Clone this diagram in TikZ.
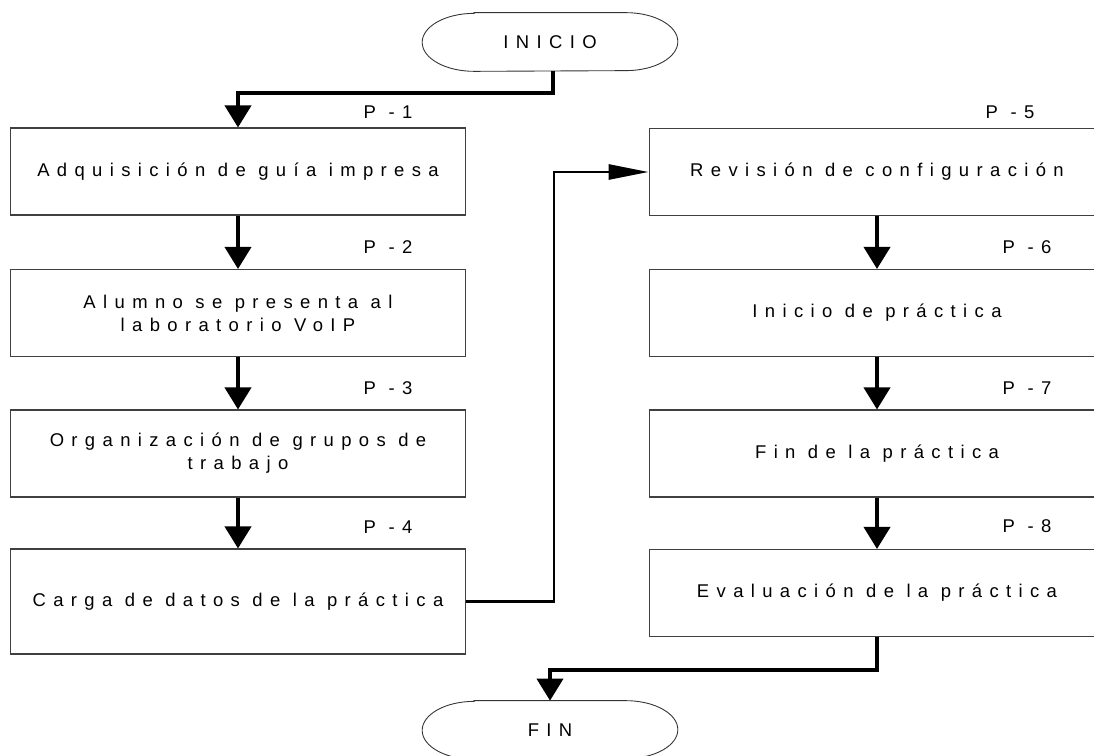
\documentclass[tikz,border=0pt]{standalone}
\usepackage{fontspec}
\usepackage{tikz}
\usetikzlibrary{calc,arrows.meta}
\newfontfamily\rotulo[LetterSpace=40]{Liberation Sans}

\tikzset{
	paso/.style={draw=black!75, line width=0.6pt, minimum width=9.12cm, minimum height=1.74cm, align=center, inner sep=0pt, font=\rotulo\fontsize{10.5}{13}\selectfont},
	extremo/.style={minimum width=5.1cm, minimum height=1.16cm, inner sep=0pt, font=\rotulo\fontsize{10.5}{13}\selectfont},
	marca/.style={font=\rotulo\fontsize{10.5}{13}\selectfont},
	flecha/.style={line width=2.2pt, -{Triangle[width=0.52cm,length=0.44cm]}},
	enlace/.style={line width=1.6pt, -{Triangle[width=0.3cm,length=0.8cm]}}
}
\def\capsula(#1){\draw[black!80, line width=0.5pt] ($(#1.north west)+(1.04cm,0)$) -- ($(#1.north east)-(1.04cm,0)$) arc (90:-90:1.04cm and 0.58cm) -- ($(#1.south west)+(1.04cm,0)$) arc (270:90:1.04cm and 0.58cm) -- cycle;}

\begin{document}
\begin{tikzpicture}[x=0.02cm, y=-0.02cm]
		%%%%% START %%%%%
		\useasboundingbox (0, 0) rectangle (1094, 756);
		
		\node[extremo] (inicio) at (550, 42) {INICIO};
		\capsula(inicio)
		
		\node[paso] (p1) at (238, 171.5) {Adquisición de guía impresa};
		\node[paso] (p2) at (238, 313) {Alumno se presenta al\\laboratorio VoIP};
		\node[paso] (p3) at (238, 453.5) {Organización de grupos de\\trabajo};
		\node[paso, minimum height=2.1cm] (p4) at (238, 601.5) {Carga de datos de la práctica};
		
		\node[paso] (p5) at (877, 172) {Revisión de configuración};
		\node[paso] (p6) at (877, 313) {Inicio de práctica};
		\node[paso] (p7) at (877, 453.5) {Fin de la práctica};
		\node[paso] (p8) at (877, 593) {Evaluación de la práctica};
		
		\node[extremo] (fin) at (550, 730) {FIN};
		\capsula(fin)
		
		\node[marca] (m1) at (388, 112) {P -1};
		\node[marca] (m2) at (388, 247) {P -2};
		\node[marca] (m3) at (388, 388) {P -3};
		\node[marca] (m4) at (388, 527) {P -4};
		\node[marca] (m5) at (1010, 112) {P -5};
		\node[marca] (m6) at (1027, 247) {P -6};
		\node[marca] (m7) at (1027, 388) {P -7};
		\node[marca] (m8) at (1027, 526) {P -8};
		
		\coordinate (c1) at (553, 93);
		\coordinate (c2) at (554, 400);
		\coordinate (c3) at (877, 670);
		
		\draw[flecha] (inicio.south -| c1) -- (c1) -| (p1.north);
		\draw[flecha] (p1.south) -- (p2.north);
		\draw[flecha] (p2.south) -- (p3.north);
		\draw[flecha] (p3.south) -- (p4.north);
		\draw[enlace] (p4.east) -| (c2) |- (p5.west);
		\draw[flecha] (p5.south) -- (p6.north);
		\draw[flecha] (p6.south) -- (p7.north);
		\draw[flecha] (p7.south) -- (p8.north);
		\draw[flecha] (p8.south) -- (c3) -| (fin.north);
		
		%%%%% END %%%%%
	\end{tikzpicture}
\end{document}
